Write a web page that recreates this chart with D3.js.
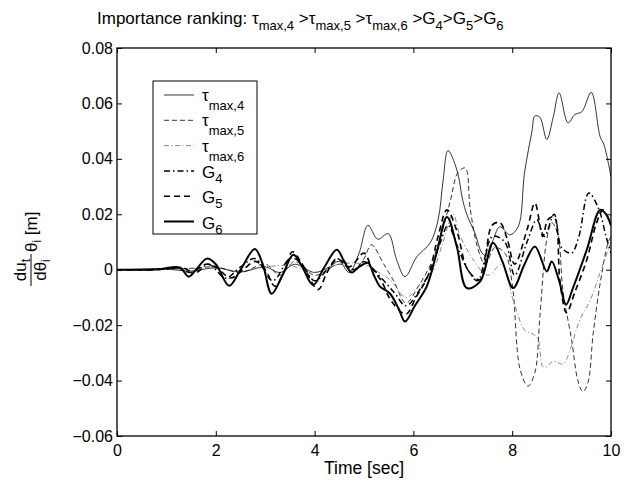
<!DOCTYPE html>
<html>
<head>
<meta charset="utf-8">
<script src="https://cdn.jsdelivr.net/npm/d3@7"></script>
<style>
body { margin: 0; background: #fff; }
text { font-family: "Liberation Sans", Arial, sans-serif; fill: #000; }
</style>
</head>
<body>
<svg id="chart" width="640" height="483"></svg>
<script>
// axis ticks
const xTicks = [0, 2, 4, 6, 8, 10];
const yTicks = [-0.06, -0.04, -0.02, 0, 0.02, 0.04, 0.06, 0.08];

// series: [time, value]
const tau4 = [[0,0],[1,0.0002],[1.5,-0.0005],[2,0.0007],[2.5,-0.0008],[3,0.001],[3.3,-0.001],[3.6,0.002],[4,-0.001],[4.3,0.001],[4.5,0.003],[4.7,-0.001],[4.9,0.006],[5.08,0.016],[5.28,0.011],[5.49,0.013],[5.66,0.0036],[5.83,-0.0025],[6.07,0.0047],[6.34,0.0097],[6.5,0.018],[6.6,0.032],[6.7,0.043],[6.88,0.036],[7.0,0.025],[7.08,0.02],[7.25,0.013],[7.39,0.006],[7.5,0.005],[7.62,0.011],[7.75,0.0155],[7.95,0.0126],[8.12,0.0155],[8.25,0.035],[8.4,0.05],[8.46,0.0555],[8.56,0.055],[8.7,0.047],[8.83,0.055],[8.95,0.0638],[9.13,0.053],[9.27,0.056],[9.41,0.057],[9.6,0.064],[9.78,0.048],[9.86,0.045],[10,0.0335]];
const tau5 = [[0,0],[1,0.0003],[1.5,0.0005],[2,0.001],[2.5,-0.001],[3,0.002],[3.3,-0.002],[3.6,0.003],[4,-0.002],[4.5,0.002],[4.8,0],[5.0,0.004],[5.15,0.009],[5.4,0.002],[5.6,-0.004],[5.85,-0.012],[6.1,-0.006],[6.35,0.002],[6.55,0.012],[6.75,0.025],[6.9,0.035],[7.05,0.0367],[7.15,0.022],[7.3,0.008],[7.45,0.002],[7.65,0.008],[7.85,0.006],[8.0,-0.005],[8.16,-0.036],[8.32,-0.042],[8.46,-0.037],[8.56,-0.017],[8.7,0.011],[8.8,0.017],[8.92,0.013],[9.03,-0.008],[9.2,-0.025],[9.33,-0.04],[9.43,-0.044],[9.53,-0.041],[9.64,-0.023],[9.78,-0.005],[9.94,0.0097],[10,0.012]];
const tau6 = [[0,0],[1,0.0002],[2,0.0005],[2.5,-0.0005],[3,0.001],[3.5,0.0015],[4,-0.001],[4.5,0.002],[5.0,0.002],[5.3,-0.001],[5.55,-0.004],[5.85,-0.01],[6.1,-0.006],[6.4,0],[6.6,0.01],[6.8,0.02],[6.95,0.012],[7.2,0.004],[7.5,-0.002],[7.8,0.002],[8.02,-0.011],[8.26,-0.022],[8.4,-0.023],[8.52,-0.025],[8.62,-0.035],[8.7,-0.035],[8.83,-0.033],[9.03,-0.034],[9.17,-0.029],[9.37,-0.018],[9.58,-0.011],[9.78,-0.001],[10,0.01]];
const g4 = [[0,0],[1.0,0.0002],[1.3,0.0008],[1.6,-0.001],[1.85,0.002],[2.2,-0.003],[2.5,0.001],[2.8,0.004],[3.15,-0.004],[3.5,0.004],[3.7,0.003],[4.0,-0.004],[4.3,0.001],[4.5,0.004],[4.8,0],[5.0,0.003],[5.3,-0.002],[5.6,-0.008],[5.85,-0.013],[6.1,-0.008],[6.35,0],[6.55,0.01],[6.7,0.016],[6.9,0.008],[7.1,0],[7.3,-0.004],[7.6,0.012],[7.85,0.01],[8.05,-0.002],[8.3,0.01],[8.5,0.018],[8.65,0.012],[8.85,0.02],[9.0,0.008],[9.2,0.006],[9.35,0.012],[9.55,0.0277],[9.75,0.022],[9.9,0.012],[10,0.006]];
const g5 = [[0,0],[0.8,0],[1.2,0.0008],[1.5,-0.001],[1.8,0.002],[2.0,0.001],[2.3,-0.003],[2.55,0],[2.8,0.003],[3.0,0],[3.2,-0.006],[3.4,0],[3.55,0.0065],[3.75,0.002],[4.07,-0.0072],[4.25,-0.001],[4.45,0.004],[4.7,0.001],[5.0,0.006],[5.15,0.001],[5.35,-0.004],[5.56,-0.0115],[5.85,-0.016],[6.05,-0.01],[6.3,-0.002],[6.5,0.012],[6.68,0.0216],[6.88,0.014],[7.1,0],[7.35,-0.0036],[7.59,0.016],[7.75,0.017],[7.9,0.011],[8.05,0.002],[8.3,0.0144],[8.46,0.024],[8.62,0.012],[8.72,0.018],[8.85,0.019],[8.97,-0.0047],[9.1,-0.0155],[9.27,-0.008],[9.51,0.0036],[9.71,0.017],[9.84,0.0216],[10,0.016]];
const g6 = [[0,0],[0.5,0],[0.9,0.0003],[1.2,0.001],[1.3,0.0005],[1.45,-0.0025],[1.6,0],[1.82,0.004],[2.0,0.002],[2.27,-0.0058],[2.5,0],[2.79,0.0075],[2.95,0.002],[3.13,-0.0087],[3.35,-0.002],[3.57,0.0054],[3.75,0.001],[3.97,-0.0055],[4.2,0.001],[4.45,0.0072],[4.6,0.003],[4.75,-0.001],[4.9,0.001],[5.08,0.0025],[5.2,-0.002],[5.32,-0.006],[5.52,-0.0085],[5.7,-0.014],[5.83,-0.0187],[6.03,-0.013],[6.27,-0.006],[6.47,0.006],[6.68,0.019],[6.88,0.0083],[7.08,-0.0066],[7.35,-0.0043],[7.61,0.0097],[7.8,0.003],[8.02,-0.0066],[8.25,0.002],[8.46,0.0084],[8.7,-0.0006],[8.8,0.003],[8.95,-0.004],[9.09,-0.0126],[9.23,-0.0066],[9.51,0.0072],[9.78,0.0216],[9.9,0.02],[10,0.016]];

const series = [
    {name: "τ", sub: "max,4", data: tau4, width: 0.8, dash: null, color: "#000"},
    {name: "τ", sub: "max,5", data: tau5, width: 0.8, dash: "5,3", color: "#000"},
    {name: "τ", sub: "max,6", data: tau6, width: 0.8, dash: "5,2.5,1,2.5", color: "#666"},
    {name: "G", sub: "4", data: g4, width: 1.5, dash: "6,3,1.5,3", color: "#000"},
    {name: "G", sub: "5", data: g5, width: 1.6, dash: "6,4", color: "#000"},
    {name: "G", sub: "6", data: g6, width: 2.0, dash: null, color: "#000"},
];

const svg = d3.select("#chart");
const margin = {left: 117, right: 611, top: 48, bottom: 436};

const xScale = d3.scaleLinear().domain([0, 10]).range([margin.left, margin.right]);
const yScale = d3.scaleLinear().domain([-0.06, 0.08]).range([margin.bottom, margin.top]);

svg.append("clipPath").attr("id", "plot-clip")
    .append("rect")
    .attr("x", margin.left).attr("y", margin.top)
    .attr("width", margin.right - margin.left)
    .attr("height", margin.bottom - margin.top);

// Construct a line generator.
const line = d3.line()
    .curve(d3.curveCatmullRom.alpha(0.5))
    .x(d => xScale(d[0]))
    .y(d => yScale(d[1]));

svg.append("g")
    .attr("clip-path", "url(#plot-clip)")
    .selectAll("path")
    .data(series)
    .join("path")
    .attr("fill", "none")
    .attr("stroke", d => d.color)
    .attr("stroke-width", d => d.width)
    .attr("stroke-dasharray", d => d.dash)
    .attr("stroke-linejoin", "round")
    .attr("d", d => line(d.data));

// axes, ticks pointing inward
const fmtY = d => d === 0 ? "0" : d3.format(".2f")(d);
const tickLen = 5;

function styleAxis(g, labels) {
    g.select(".domain").remove();
    g.selectAll(".tick line").attr("stroke", "#000").attr("stroke-width", 1);
    g.selectAll(".tick text")
        .style("font-size", "16px")
        .attr("fill", "#000")
        .attr("opacity", labels ? 1 : 0);
}

svg.append("g")
    .attr("transform", `translate(0,${margin.bottom})`)
    .call(d3.axisBottom(xScale).tickValues(xTicks).tickSizeInner(-tickLen).tickSizeOuter(0).tickPadding(9).tickFormat(d3.format("d")))
    .call(g => styleAxis(g, true));

svg.append("g")
    .attr("transform", `translate(0,${margin.top})`)
    .call(d3.axisTop(xScale).tickValues(xTicks).tickSizeInner(-tickLen).tickSizeOuter(0))
    .call(g => styleAxis(g, false));

svg.append("g")
    .attr("transform", `translate(${margin.left},0)`)
    .call(d3.axisLeft(yScale).tickValues(yTicks).tickSizeInner(-tickLen).tickSizeOuter(0).tickPadding(4).tickFormat(fmtY))
    .call(g => styleAxis(g, true));

svg.append("g")
    .attr("transform", `translate(${margin.right},0)`)
    .call(d3.axisRight(yScale).tickValues(yTicks).tickSizeInner(-tickLen).tickSizeOuter(0))
    .call(g => styleAxis(g, false));

svg.append("rect")
    .attr("x", margin.left).attr("y", margin.top)
    .attr("width", margin.right - margin.left)
    .attr("height", margin.bottom - margin.top)
    .attr("fill", "none")
    .attr("stroke", "#000")
    .attr("stroke-width", 1.3);

// x label
svg.append("text")
    .attr("x", (margin.left + margin.right) / 2)
    .attr("y", 474)
    .attr("text-anchor", "middle")
    .style("font-size", "17.5px")
    .text("Time [sec]");

// y label: du_t / dθ_i · θ_i [m]
const yl = svg.append("g").attr("transform", "translate(31,240) rotate(-90)");
yl.append("line")
    .attr("x1", -46).attr("x2", -14).attr("y1", 0).attr("y2", 0)
    .attr("stroke", "#000").attr("stroke-width", 1);
const num = yl.append("text").attr("x", -30).attr("y", -5).attr("text-anchor", "middle").style("font-size", "17px");
num.append("tspan").text("du");
num.append("tspan").attr("dy", 4).style("font-size", "12px").text("t");
const den = yl.append("text").attr("x", -30).attr("y", 15).attr("text-anchor", "middle").style("font-size", "17px");
den.append("tspan").text("dθ");
den.append("tspan").attr("dy", 4).style("font-size", "12px").text("i");
const rest = yl.append("text").attr("x", -12).attr("y", 6).style("font-size", "17px");
rest.append("tspan").text("θ");
rest.append("tspan").attr("dy", 4).style("font-size", "12px").text("i");
rest.append("tspan").attr("dy", -4).text(" [m]");

// title
const title = svg.append("text")
    .attr("x", 97).attr("y", 24)
    .style("font-size", "17px");
title.append("tspan").text("Importance ranking: ");
const titleParts = [["τ", "max,4", " >"], ["τ", "max,5", " >"], ["τ", "max,6", " >"], ["G", "4", ">"], ["G", "5", ">"], ["G", "6", ""]];
titleParts.forEach(p => {
    title.append("tspan").text(p[0]);
    title.append("tspan").attr("dy", 6).style("font-size", "13px").text(p[1]);
    title.append("tspan").attr("dy", -6).text(p[2]);
});

// legend
const legend = svg.append("g");
legend.append("rect")
    .attr("x", 153).attr("y", 81).attr("width", 104).attr("height", 153)
    .attr("fill", "#fff").attr("stroke", "#000").attr("stroke-width", 1);

const ly = i => 95 + i * 25.3;
legend.selectAll("line.key")
    .data(series)
    .join("line")
    .classed("key", true)
    .attr("x1", 164).attr("x2", 194)
    .attr("y1", (d, i) => ly(i)).attr("y2", (d, i) => ly(i))
    .attr("stroke", d => d.color)
    .attr("stroke-width", d => d.width)
    .attr("stroke-dasharray", d => d.dash);

series.forEach((s, i) => {
    const isTau = s.name === "τ";
    const t = legend.append("text")
        .attr("x", 202)
        .attr("y", ly(i) + (isTau ? 6 : 7))
        .style("font-size", "17px");
    t.append("tspan").text(s.name);
    t.append("tspan").attr("dy", isTau ? 9 : 5).style("font-size", "13px").text(s.sub);
});
</script>
</body>
</html>
